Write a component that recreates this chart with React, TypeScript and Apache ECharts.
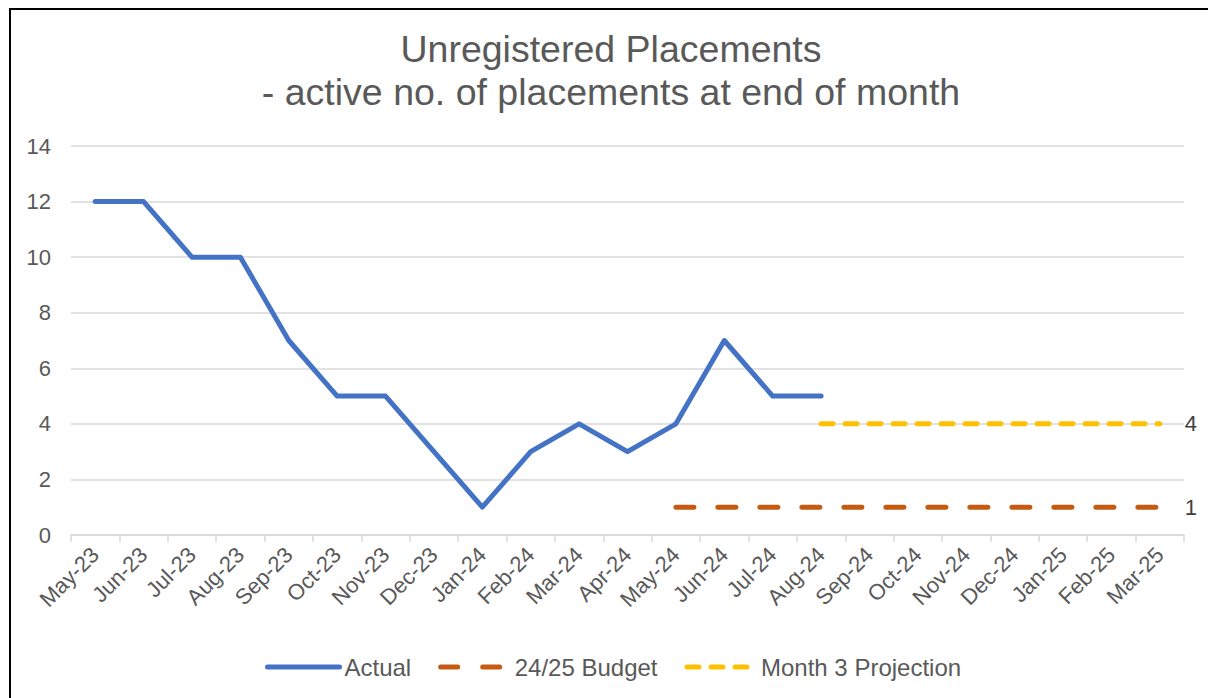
import React, { useEffect, useRef } from "react";
import * as echarts from "echarts";

const categories = [
  "May-23", "Jun-23", "Jul-23", "Aug-23", "Sep-23", "Oct-23", "Nov-23", "Dec-23",
  "Jan-24", "Feb-24", "Mar-24", "Apr-24", "May-24", "Jun-24", "Jul-24", "Aug-24",
  "Sep-24", "Oct-24", "Nov-24", "Dec-24", "Jan-25", "Feb-25", "Mar-25",
];
const actual: (number | null)[] = [12, 12, 10, 10, 7, 5, 5, 3, 1, 3, 4, 3, 4, 7, 5, 5, null, null, null, null, null, null, null];
const budget: (number | null)[] = [null, null, null, null, null, null, null, null, null, null, null, null, 1, 1, 1, 1, 1, 1, 1, 1, 1, 1, 1];
const projection: (number | null)[] = [null, null, null, null, null, null, null, null, null, null, null, null, null, null, null, 4, 4, 4, 4, 4, 4, 4, 4];
const yTicks = { min: 0, max: 14, interval: 2 };

const FONT = "'Liberation Sans', Arial, sans-serif";
const TXT = "#595959";
const BLUE = "#4472C4";
const ORANGE = "#C55A11";
const GOLD = "#FFC000";

export default function App() {
  const ref = useRef<HTMLDivElement>(null);
  useEffect(() => {
    if (!ref.current) return;
    const chart = echarts.init(ref.current, undefined, { renderer: "svg" });
    chart.setOption({
      animation: false,
      backgroundColor: "#ffffff",
      textStyle: { fontFamily: FONT },
      title: {
        text: "Unregistered Placements\n- active no. of placements at end of month",
        left: 611,
        textAlign: "center",
        top: 27,
        padding: 0,
        textStyle: { fontSize: 37.5, lineHeight: 43, fontWeight: "normal", color: TXT, fontFamily: FONT },
      },
      graphic: [
        {
          type: "rect",
          shape: { x: 10, y: 9, width: 1400, height: 900 },
          style: { fill: "none", stroke: "#000000", lineWidth: 2 },
          silent: true,
        },
      ],
      legend: {
        bottom: 19,
        left: 265,
        padding: 0,
        itemWidth: 72,
        itemHeight: 14,
        itemGap: 24,
        itemStyle: { opacity: 0 },
        textStyle: { fontSize: 24, color: TXT, fontFamily: FONT },
        data: [
          { name: "Actual", itemStyle: { opacity: 0 }, lineStyle: { width: 5, cap: "round", color: BLUE } },
          { name: "24/25 Budget", itemStyle: { opacity: 0 }, lineStyle: { width: 5, cap: "round", color: ORANGE, type: [17, 25], dashOffset: -3 } },
          { name: "Month 3 Projection", itemStyle: { opacity: 0 }, lineStyle: { width: 5, cap: "round", color: GOLD, type: [12, 12], dashOffset: -3 } },
        ],
      },
      grid: { left: 71, right: 24, top: 146, bottom: 163, containLabel: false },
      xAxis: {
        type: "category",
        data: categories,
        boundaryGap: true,
        axisLine: { lineStyle: { color: "#d9d9d9", width: 1.5 } },
        axisTick: { show: true, length: 7, lineStyle: { color: "#d9d9d9", width: 1.5 } },
        axisLabel: { rotate: 45, fontSize: 22, color: TXT, margin: 16, interval: 0, fontFamily: FONT },
        splitLine: { show: false },
      },
      yAxis: {
        type: "value",
        min: yTicks.min,
        max: yTicks.max,
        interval: yTicks.interval,
        axisLine: { show: false },
        axisTick: { show: false },
        axisLabel: { fontSize: 22, color: TXT, margin: 20, fontFamily: FONT },
        splitLine: { lineStyle: { color: "#d9d9d9", width: 1.5 } },
      },
      series: [
        {
          name: "Actual",
          type: "line",
          data: actual,
          symbol: "none",
          connectNulls: false,
          lineStyle: { color: BLUE, width: 5, cap: "round", join: "round" },
          itemStyle: { color: BLUE },
        },
        {
          name: "24/25 Budget",
          type: "line",
          data: budget,
          symbol: "none",
          lineStyle: { color: ORANGE, width: 5, type: [18, 24], cap: "round" },
          itemStyle: { color: ORANGE },
          endLabel: { show: true, formatter: "{c}", distance: 25, fontSize: 22, color: "#404040", fontFamily: FONT },
        },
        {
          name: "Month 3 Projection",
          type: "line",
          data: projection,
          symbol: "none",
          lineStyle: { color: GOLD, width: 5, type: [12, 12], cap: "round" },
          itemStyle: { color: GOLD },
          endLabel: { show: true, formatter: "{c}", distance: 25, fontSize: 22, color: "#404040", fontFamily: FONT },
        },
      ],
    });
    return () => chart.dispose();
  }, []);
  return (
    <div style={{ position: "fixed", left: 0, top: 0, width: 1208, height: 698, overflow: "hidden" }}>
      <div ref={ref} style={{ width: 1208, height: 698 }} />
    </div>
  );
}
